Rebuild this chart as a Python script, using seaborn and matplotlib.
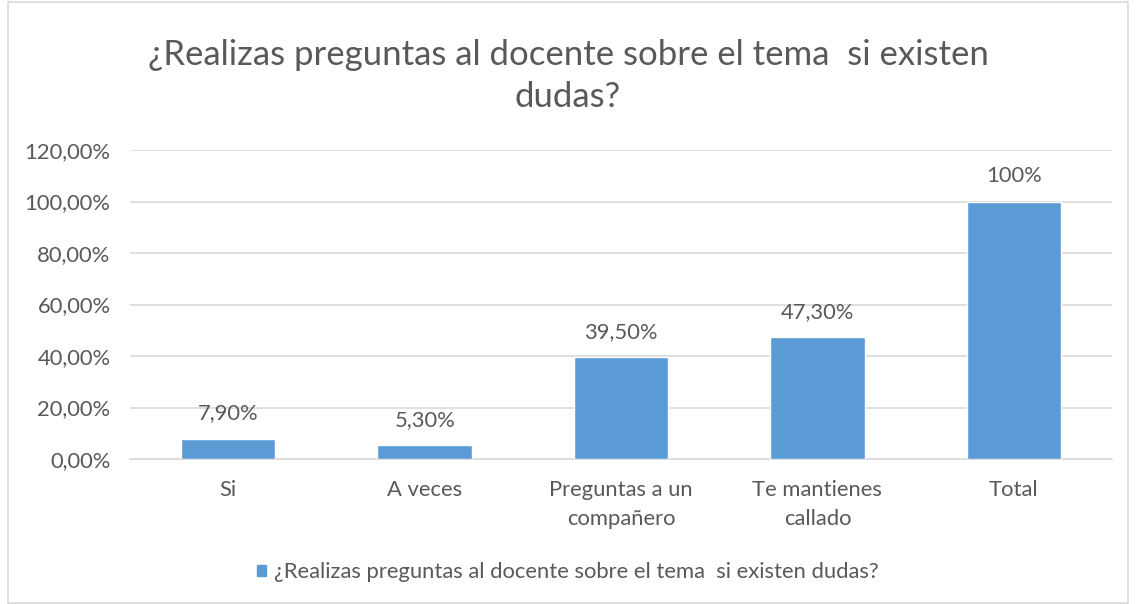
import matplotlib
matplotlib.use("Agg")
import matplotlib.pyplot as plt
import matplotlib.patches as mpatches
import seaborn as sns
import pandas as pd

# data
categories = ["Si", "A veces", "Preguntas a un\ncompañero", "Te mantienes\ncallado", "Total"]
values = [0.079, 0.053, 0.395, 0.473, 1.00]
bar_labels = ["7,90%", "5,30%", "39,50%", "47,30%", "100%"]
y_ticks = [0.0, 0.2, 0.4, 0.6, 0.8, 1.0, 1.2]
y_tick_labels = ["0,00%", "20,00%", "40,00%", "60,00%", "80,00%", "100,00%", "120,00%"]
series_name = "¿Realizas preguntas al docente sobre el tema  si existen dudas?"
title = "¿Realizas preguntas al docente sobre el tema  si existen\ndudas?"

TXT = "#595959"
BAR = "#5B9BD5"
GRID = "#D9D9D9"

sns.set_theme(style="white")
plt.rcParams["font.family"] = ["Lato", "DejaVu Sans"]

df = pd.DataFrame({"cat": categories, "val": values})

fig = plt.figure(figsize=(11.36, 6.04), dpi=100)
ax = fig.add_axes([130 / 1136, 1 - 459 / 604, (1112 - 130) / 1136, (459 - 150) / 604])

sns.barplot(data=df, x="cat", y="val", color=BAR, width=0.48, saturation=1, ax=ax, zorder=3)

ax.set_ylim(0, 1.2)
ax.set_yticks(y_ticks)
ax.set_yticklabels(y_tick_labels, color=TXT, fontsize=15.8)
ax.tick_params(axis="x", colors=TXT, labelsize=15.8, length=0, pad=15)
ax.tick_params(axis="y", length=0, pad=14)
for lbl in ax.get_xticklabels():
    lbl.set_linespacing(1.55)
ax.set_xlabel("")
ax.set_ylabel("")
ax.yaxis.grid(True, color=GRID, linewidth=1.2, zorder=0)
for s in ["top", "right", "left"]:
    ax.spines[s].set_visible(False)
ax.spines["bottom"].set_color(GRID)
ax.spines["bottom"].set_linewidth(1.2)

ax.bar_label(ax.containers[0], labels=bar_labels, padding=11, color=TXT, fontsize=15.8)

fig.text(0.5, 1 - 76 / 604, title, ha="center", va="center", color=TXT,
         fontsize=25, linespacing=1.4)

handle = mpatches.Patch(color=BAR, label=series_name)
fig.legend(handles=[handle], loc="center", bbox_to_anchor=(0.5, 1 - 572 / 604),
           frameon=False, fontsize=15.8, labelcolor=TXT, handlelength=0.4,
           handleheight=0.4, handletextpad=0.4)

border = mpatches.Rectangle((8 / 1136, 0.002), 1120 / 1136, 0.995, transform=fig.transFigure,
                            fill=False, edgecolor=GRID, linewidth=1.2)
fig.patches.append(border)

fig.savefig("out.png", dpi=100)
